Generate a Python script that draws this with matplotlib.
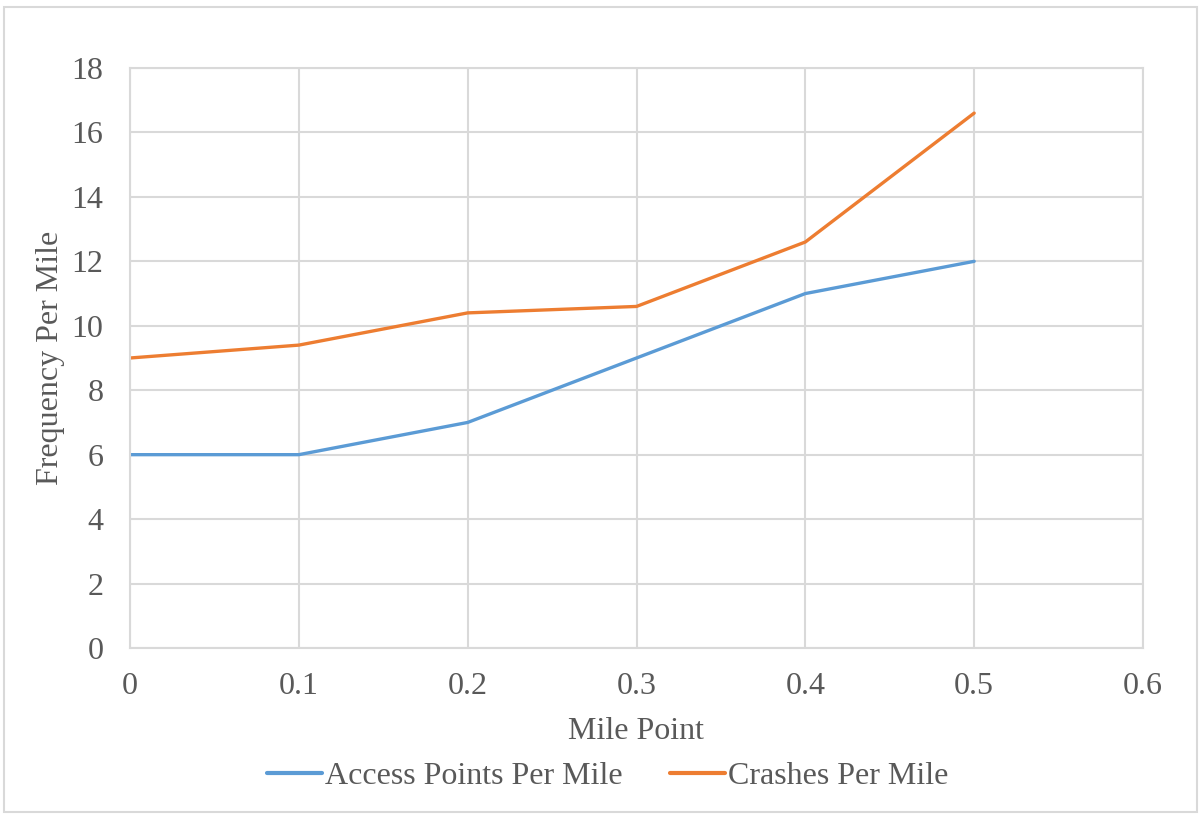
import matplotlib
matplotlib.use("Agg")
import matplotlib.pyplot as plt
from matplotlib.patches import Rectangle

mile_point = [0, 0.1, 0.2, 0.3, 0.4, 0.5]
access_points = [6, 6, 7, 9, 11, 12]
crashes = [9, 9.4, 10.4, 10.6, 12.6, 16.6]
x_ticks = [0, 0.1, 0.2, 0.3, 0.4, 0.5, 0.6]
x_tick_labels = ["0", "0.1", "0.2", "0.3", "0.4", "0.5", "0.6"]
y_ticks = [0, 2, 4, 6, 8, 10, 12, 14, 16, 18]

plt.rcParams['font.family'] = ['Liberation Serif', 'DejaVu Serif']
txt = '#595959'
grid = '#d9d9d9'
fs = 23

fig = plt.figure(figsize=(12.01, 8.15), dpi=100)
fig.patches.append(Rectangle((4/1201, 1-812/815), 1193/1201, (812-7)/815,
                             transform=fig.transFigure, fill=False,
                             edgecolor=grid, linewidth=1.5))
ax = fig.add_axes([130/1201, 1-648/815, (1143-130)/1201, 580/815])

ax.plot(mile_point, access_points, color='#5b9bd5', linewidth=2.4,
        label='Access Points Per Mile', solid_capstyle='round')
ax.plot(mile_point, crashes, color='#ed7d31', linewidth=2.4,
        label='Crashes Per Mile', solid_capstyle='round')

ax.set_xlim(0, 0.6)
ax.set_ylim(0, 18)
ax.set_xticks(x_ticks)
ax.set_xticklabels(x_tick_labels)
ax.set_yticks(y_ticks)
ax.grid(True, color=grid, linewidth=1.5)
ax.set_axisbelow(True)
for s in ax.spines.values():
    s.set_color(grid)
    s.set_linewidth(1.5)
ax.tick_params(length=0, labelsize=fs, labelcolor=txt)
ax.tick_params(axis='y', pad=19)
ax.tick_params(axis='x', pad=17)
ax.set_xlabel('Mile Point', fontsize=fs, color=txt, labelpad=12)
ax.set_ylabel('Frequency Per Mile', fontsize=fs, color=txt, labelpad=5)

leg = fig.legend(loc='center', bbox_to_anchor=(0.506, 1-776/815), ncol=2,
                 frameon=False, fontsize=fs, handlelength=1.7,
                 handletextpad=0.1, columnspacing=1.5)
for line in leg.get_lines():
    line.set_linewidth(3.0)
for t in leg.get_texts():
    t.set_color(txt)

fig.savefig('out.png', dpi=100)
